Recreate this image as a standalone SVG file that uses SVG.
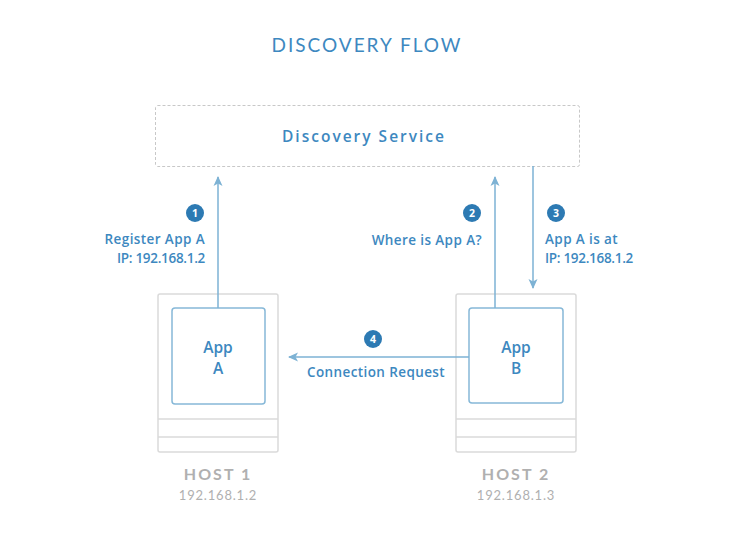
<svg xmlns="http://www.w3.org/2000/svg" width="729" height="543" viewBox="0 0 729 543">
<style>
.t{font-family:"Open Sans",Lato,"Liberation Sans",sans-serif;fill:#3d88c0;font-weight:600}
.l{font-size:13.5px;letter-spacing:0.4px}
.ip{font-size:13.5px;letter-spacing:-0.3px}
.g{font-family:Lato,"Open Sans","Liberation Sans",sans-serif;fill:#b0b0b0}
.host{fill:none;stroke:#dadada;stroke-width:1.5}
.app{fill:#fff;stroke:#86b8d8;stroke-width:1.5}
.c{stroke:#7db2d4;stroke-width:1.5;fill:none}
.badge circle{fill:#2d7ab3}
.badge text{font-family:"Open Sans","Liberation Sans",sans-serif;font-weight:700;font-size:10.5px;fill:#fff;text-anchor:middle}
</style>
<defs>
<marker id="ah" viewBox="0 0 10 10" refX="9" refY="5" markerWidth="10" markerHeight="10" markerUnits="userSpaceOnUse" orient="auto">
<path d="M0,0.5 L10,5 L0,9.5 L2.5,5 Z" fill="#7db2d4"/>
</marker>
</defs>
<rect width="729" height="543" fill="#fff"/>
<text x="367" y="52" text-anchor="middle" style="font-family:Lato,'Open Sans',sans-serif;fill:#3d88c0;font-size:19px;letter-spacing:2px">DISCOVERY FLOW</text>

<g id="discovery">
<rect x="155.5" y="105.5" width="424" height="61" rx="2" fill="none" stroke="#c8c8c8" stroke-width="1" stroke-dasharray="3,2"/>
<text x="364" y="142" text-anchor="middle" class="t" style="font-size:15.5px;letter-spacing:2px">Discovery Service</text>
</g>

<g id="host1">
<rect x="158" y="294" width="120" height="158" rx="2" class="host"/>
<line x1="158" y1="419" x2="278" y2="419" class="host"/>
<line x1="158" y1="437" x2="278" y2="437" class="host"/>
<text x="218" y="480" text-anchor="middle" class="g" style="font-size:16px;font-weight:700;letter-spacing:2px">HOST 1</text>
<text x="218" y="500" text-anchor="middle" class="g" style="font-size:13px;letter-spacing:0.8px">192.168.1.2</text>
</g>
<g id="appA">
<rect x="172" y="308" width="93" height="96" rx="3" class="app"/>
<text x="218" y="353" text-anchor="middle" class="t" style="font-size:15.5px">App</text>
<text x="218" y="374" text-anchor="middle" class="t" style="font-size:15.5px">A</text>
</g>

<g id="host2">
<rect x="456" y="294" width="120" height="158" rx="2" class="host"/>
<line x1="456" y1="419" x2="576" y2="419" class="host"/>
<line x1="456" y1="437" x2="576" y2="437" class="host"/>
<text x="516" y="480" text-anchor="middle" class="g" style="font-size:16px;font-weight:700;letter-spacing:2px">HOST 2</text>
<text x="516" y="500" text-anchor="middle" class="g" style="font-size:13px;letter-spacing:0.8px">192.168.1.3</text>
</g>
<g id="appB">
<rect x="469" y="308" width="94" height="95" rx="3" class="app"/>
<text x="516" y="353" text-anchor="middle" class="t" style="font-size:15.5px">App</text>
<text x="516" y="374" text-anchor="middle" class="t" style="font-size:15.5px">B</text>
</g>

<g id="connectors">
<line x1="218" y1="308" x2="218" y2="177" class="c" marker-end="url(#ah)"/>
<line x1="495" y1="308" x2="495" y2="177" class="c" marker-end="url(#ah)"/>
<line x1="533" y1="166" x2="533" y2="288" class="c" marker-end="url(#ah)"/>
<line x1="469" y1="357" x2="289" y2="357" class="c" marker-end="url(#ah)"/>
</g>

<g id="labels">
<g class="badge"><circle cx="195" cy="213" r="9"/><text x="195" y="217">1</text></g>
<text x="205" y="244" text-anchor="end" class="t l">Register App A</text>
<text x="205" y="263" text-anchor="end" class="t ip">IP: 192.168.1.2</text>
<g class="badge"><circle cx="472" cy="213" r="9"/><text x="472" y="217">2</text></g>
<text x="482" y="245" text-anchor="end" class="t l">Where is App A?</text>
<g class="badge"><circle cx="556" cy="213" r="9"/><text x="556" y="217">3</text></g>
<text x="545" y="244" class="t l">App A is at</text>
<text x="545" y="263" class="t ip">IP: 192.168.1.2</text>
<g class="badge"><circle cx="373" cy="339" r="9"/><text x="373" y="343">4</text></g>
<text x="376" y="377" text-anchor="middle" class="t l">Connection Request</text>
</g>
</svg>
